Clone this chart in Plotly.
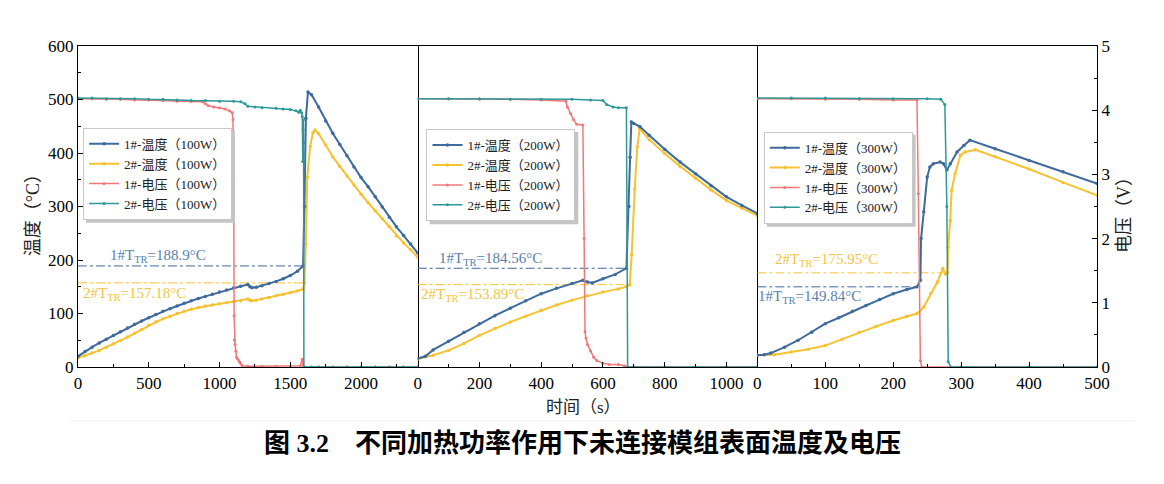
import plotly.graph_objects as go

# ---- data ----
POWERS = ["100W", "200W", "300W"]
X_RANGES = [2400, 1100, 500]
X_DTICK = [500, 200, 100]

# 100 W
P1_T1_X = [0, 50, 100, 150, 200, 250, 300, 350, 400, 450, 500, 550, 600, 650, 700, 750, 800, 850, 900, 950,
           1000, 1050, 1100, 1150, 1200, 1215, 1230, 1260, 1300, 1350, 1400, 1450, 1500, 1550, 1590, 1600,
           1610, 1625, 1650, 1700, 1750, 1800, 1850, 1900, 1950, 2000, 2050, 2100, 2150, 2200, 2250, 2300,
           2350, 2400]
P1_T1_Y = [20, 29, 37, 45, 52, 59, 66, 73, 80, 86, 92, 98, 104, 109, 114, 119, 124, 128, 132, 136,
           140, 144, 148, 151, 154, 150, 148, 149, 152, 156, 160, 165, 171, 179, 188.9, 300,
           465, 514, 509, 486, 460, 437, 416, 395, 374, 354, 337, 318, 299, 280, 262, 246,
           230, 213]
P1_T2_X = [0, 50, 100, 150, 200, 250, 300, 350, 400, 450, 500, 550, 600, 650, 700, 750, 800, 850, 900, 950,
           1000, 1050, 1100, 1150, 1200, 1215, 1230, 1260, 1300, 1350, 1400, 1450, 1500, 1550, 1590, 1600,
           1610, 1620, 1640, 1660, 1675, 1700, 1750, 1800, 1850, 1900, 1950, 2000, 2050, 2100, 2150, 2200,
           2250, 2300, 2350, 2400]
P1_T2_Y = [17, 21, 26, 31, 37, 43, 49, 56, 63, 70, 78, 84, 90, 95, 100, 104, 108, 111, 114, 116,
           118, 120, 122, 124, 127, 125, 124, 125, 127, 130, 133, 136, 139, 142, 146, 157.18,
           230, 355, 412, 438, 443, 436, 415, 393, 375, 357, 340, 323, 307, 292, 277, 262,
           245, 232, 219, 205]
P1_V1_X = [0, 100, 200, 300, 400, 500, 600, 700, 800, 880, 900, 920, 960, 1000, 1040, 1070, 1090, 1095,
           1100, 1103, 1105, 1110, 1115, 1120, 1130, 1140, 1150, 1160, 1200, 1300, 1400, 1500, 1570, 1585,
           1590, 1600, 1700, 1800, 1900, 2000, 2100, 2200, 2300, 2400]
P1_V1_Y = [4.18, 4.18, 4.17, 4.17, 4.16, 4.16, 4.15, 4.14, 4.14, 4.13, 4.10, 4.07, 4.05, 4.04, 4.02, 3.99,
           3.96, 3.85, 2.9, 0.8, 0.42, 0.35, 0.25, 0.15, 0.12, 0.08, 0.05, 0.02, 0.01, 0.01, 0.01, 0.01,
           0.02, 0.12, 0.03, 0, 0, 0, 0, 0, 0, 0, 0, 0]
P1_V2_X = [0, 100, 200, 300, 400, 500, 600, 700, 800, 900, 1000, 1100, 1150, 1180, 1200, 1250, 1300, 1400,
           1450, 1500, 1540, 1560, 1570, 1580, 1585, 1588, 1590, 1592, 1594, 1596, 1650, 1700, 1800, 1900,
           2000, 2100, 2200, 2300, 2400]
P1_V2_Y = [4.19, 4.19, 4.18, 4.18, 4.18, 4.17, 4.17, 4.16, 4.15, 4.15, 4.14, 4.14, 4.13, 4.10, 4.06, 4.05,
           4.04, 4.03, 4.02, 4.01, 3.99, 3.97, 4.0, 3.96, 3.9, 3.2, 3.7, 3.85, 3.5, 0, 0, 0, 0, 0,
           0, 0, 0, 0, 0]

# 200 W
P2_T1_X = [0, 25, 50, 100, 150, 200, 250, 300, 350, 400, 450, 500, 535, 550, 565, 600, 640, 676, 684, 688,
           692, 700, 720, 750, 800, 850, 900, 950, 1000, 1050, 1100]
P2_T1_Y = [16, 20, 32, 48, 65, 81, 96, 110, 124, 137, 147, 156, 162, 159, 157, 165, 173, 184.56, 300, 392,
           458, 455, 449, 433, 407, 383, 361, 339, 318, 302, 287]
P2_T2_X = [0, 50, 100, 150, 200, 250, 300, 350, 400, 450, 500, 550, 600, 650, 676, 687, 693, 703, 711, 719,
           750, 800, 850, 900, 950, 1000, 1050, 1100]
P2_T2_Y = [15, 22, 31, 44, 59, 72, 84, 95, 106, 116, 125, 133, 140, 146, 150, 153.89, 210, 333, 411, 445,
           425, 399, 375, 353, 331, 311, 297, 283]
P2_V1_X = [0, 100, 200, 300, 400, 480, 485, 495, 505, 515, 535, 539, 542, 545, 550, 560, 570, 580, 600,
           620, 650, 670, 680, 700, 800, 900, 1000, 1100]
P2_V1_Y = [4.18, 4.18, 4.17, 4.17, 4.16, 4.14, 4.05, 3.95, 3.85, 3.78, 3.77, 2.0, 0.55, 0.45, 0.35, 0.25,
           0.15, 0.1, 0.06, 0.04, 0.04, 0.02, 0, 0, 0, 0, 0, 0]
P2_V2_X = [0, 100, 200, 300, 400, 500, 560, 600, 612, 633, 650, 676, 680, 700, 800, 900, 1000, 1100]
P2_V2_Y = [4.18, 4.18, 4.18, 4.17, 4.17, 4.17, 4.16, 4.15, 4.09, 4.05, 4.04, 4.04, 0, 0, 0, 0, 0, 0]

# 300 W
P3_T1_X = [0, 10, 20, 40, 60, 80, 100, 120, 140, 160, 180, 200, 220, 235, 240, 241, 245, 250, 254, 259,
           269, 274, 279, 284, 294, 304, 313, 350, 400, 450, 500]
P3_T1_Y = [22, 23, 26, 37, 50, 65, 81, 92, 104, 115, 126, 137, 145, 149.84, 162, 240, 290, 355, 374, 380,
           383, 380, 368, 380, 402, 414, 424, 408, 386, 365, 343]
P3_T2_X = [0, 25, 50, 75, 100, 125, 150, 175, 200, 220, 235, 245, 255, 265, 273, 277, 280, 281, 284, 286,
           291, 299, 306, 321, 350, 400, 450, 500]
P3_T2_Y = [22, 23, 28, 33, 40, 52, 65, 76, 87, 95, 100, 112, 137, 159, 184, 174, 175.95, 224, 274, 330,
           361, 396, 402, 406, 393, 370, 345, 321]
P3_V1_X = [0, 50, 100, 150, 200, 235, 237, 240, 242, 300, 400, 500]
P3_V1_Y = [4.18, 4.18, 4.17, 4.17, 4.16, 4.16, 2.7, 0.1, 0, 0, 0, 0]
P3_V2_X = [0, 50, 100, 150, 200, 250, 270, 276, 279, 281, 285, 300, 400, 500]
P3_V2_Y = [4.19, 4.19, 4.19, 4.18, 4.18, 4.18, 4.17, 4.09, 2.5, 0.08, 0, 0, 0, 0]

# thermal-runaway thresholds (°C) and the time where each dashed line ends
TR1 = [188.9, 184.56, 149.84]
TR2 = [157.18, 153.89, 175.95]
TR1_END = [1590, 676, 240]
TR2_END = [1600, 687, 282]
TR1_LABEL = ["188.9", "184.56", "149.84"]
TR2_LABEL = ["157.18", "153.89", "175.95"]

BLUE = "#3E6A9C"
YELLOW = "#F5C232"
RED = "#F07878"
TEAL = "#2E9898"
FONT = "Liberation Serif, Noto Sans CJK SC"
TICKFONT = dict(family=FONT, size=17, color="black")

panels = [
    (P1_T1_X, P1_T1_Y, P1_T2_X, P1_T2_Y, P1_V1_X, P1_V1_Y, P1_V2_X, P1_V2_Y),
    (P2_T1_X, P2_T1_Y, P2_T2_X, P2_T2_Y, P2_V1_X, P2_V1_Y, P2_V2_X, P2_V2_Y),
    (P3_T1_X, P3_T1_Y, P3_T2_X, P3_T2_Y, P3_V1_X, P3_V1_Y, P3_V2_X, P3_V2_Y),
]

legend_pos = [(0.005, 0.745), (0.342, 0.741), (0.673, 0.733)]
# approximate legend box size in paper units, used for the drop shadow
LEG_W, LEG_H = 0.146, 0.287
# label centres in data units: (1# label), (2# label)
TR_TEXT_POS = [
    ((563, 207), (396, 136)),
    ((237, 202), (179, 134)),
    ((77, 131), (102, 200)),
]

fig = go.Figure()
layout = {}

for i, (t1x, t1y, t2x, t2y, v1x, v1y, v2x, v2y) in enumerate(panels):
    xs = "x" if i == 0 else f"x{i + 1}"
    yt = "y" if i == 0 else f"y{2 * i + 1}"
    yv = f"y{2 * i + 2}"
    lg = "legend" if i == 0 else f"legend{i + 1}"
    p = POWERS[i]

    fig.add_trace(go.Scatter(x=[0, TR1_END[i]], y=[TR1[i], TR1[i]], xaxis=xs, yaxis=yt, mode="lines",
                             line=dict(color=BLUE, width=1, dash="dashdot"), showlegend=False))
    fig.add_trace(go.Scatter(x=[0, TR2_END[i]], y=[TR2[i], TR2[i]], xaxis=xs, yaxis=yt, mode="lines",
                             line=dict(color=YELLOW, width=1, dash="dashdot"), showlegend=False))
    fig.add_trace(go.Scatter(x=t2x, y=t2y, xaxis=xs, yaxis=yt, mode="lines+markers",
                             name=f"2#-温度（{p}）", legend=lg, legendrank=2,
                             line=dict(color=YELLOW, width=2), marker=dict(size=3.5)))
    fig.add_trace(go.Scatter(x=t1x, y=t1y, xaxis=xs, yaxis=yt, mode="lines+markers",
                             name=f"1#-温度（{p}）", legend=lg, legendrank=1,
                             line=dict(color=BLUE, width=2), marker=dict(size=3.5)))
    fig.add_trace(go.Scatter(x=v1x, y=v1y, xaxis=xs, yaxis=yv, mode="lines+markers",
                             name=f"1#-电压（{p}）", legend=lg, legendrank=3,
                             line=dict(color=RED, width=1.5), marker=dict(size=3)))
    fig.add_trace(go.Scatter(x=v2x, y=v2y, xaxis=xs, yaxis=yv, mode="lines+markers",
                             name=f"2#-电压（{p}）", legend=lg, legendrank=4,
                             line=dict(color=TEAL, width=1.5), marker=dict(size=3)))

    xname = "xaxis" if i == 0 else f"xaxis{i + 1}"
    ytname = "yaxis" if i == 0 else f"yaxis{2 * i + 1}"
    yvname = f"yaxis{2 * i + 2}"
    layout[xname] = dict(domain=[i / 3, (i + 1) / 3], anchor=yt, range=[0, X_RANGES[i]], dtick=X_DTICK[i],
                         showline=True, mirror=True, linecolor="black", linewidth=1.4,
                         ticks="inside", ticklen=5, tickcolor="black",
                         minor=dict(ticks="inside", ticklen=3, dtick=X_DTICK[i] / 2, tickcolor="black"),
                         showgrid=False, zeroline=False, automargin=False, tickfont=TICKFONT)
    layout[ytname] = dict(domain=[0, 1], anchor=xs, range=[0, 600], showgrid=False, zeroline=False,
                          automargin=False, showline=(i == 0), linecolor="black", linewidth=1.4)
    layout[yvname] = dict(anchor=xs, overlaying=yt, side="right", range=[0, 5], showgrid=False,
                          zeroline=False, automargin=False, showline=True, linecolor="black",
                          linewidth=1.4)
    if i == 0:
        layout[ytname].update(dtick=100, ticks="inside", ticklen=5, tickcolor="black", tickfont=TICKFONT,
                              minor=dict(ticks="inside", ticklen=3, dtick=50, tickcolor="black"))
    else:
        layout[ytname].update(showticklabels=False, ticks="")
    if i == 2:
        layout[yvname].update(dtick=1, ticks="inside", ticklen=5, tickcolor="black", tickfont=TICKFONT,
                              minor=dict(ticks="inside", ticklen=3, dtick=0.5, tickcolor="black"))
    else:
        layout[yvname].update(showticklabels=False, ticks="")

    lx, ly = legend_pos[i]
    layout[lg] = dict(x=lx, y=ly, xanchor="left", yanchor="top", traceorder="normal",
                      bgcolor="white", bordercolor="#C8C8C8", borderwidth=1, itemwidth=30,
                      font=dict(family=FONT, size=13, color="#222"))
    # soft drop shadow behind each legend box
    fig.add_shape(type="rect", xref="paper", yref="paper", layer="above",
                  x0=lx + 0.003, x1=lx + LEG_W + 0.003, y0=ly - LEG_H - 0.009, y1=ly - 0.009,
                  fillcolor="#C4C4C4", line=dict(width=0))

    (a1x, a1y), (a2x, a2y) = TR_TEXT_POS[i]
    fig.add_annotation(x=a1x, y=a1y, xref=xs, yref=yt, showarrow=False, xanchor="center",
                       yanchor="middle", text=f"1#T<sub>TR</sub>={TR1_LABEL[i]}°C",
                       font=dict(family=FONT, size=15, color="#5A7FAD"))
    fig.add_annotation(x=a2x, y=a2y, xref=xs, yref=yt, showarrow=False, xanchor="center",
                       yanchor="middle", text=f"2#T<sub>TR</sub>={TR2_LABEL[i]}°C",
                       font=dict(family=FONT, size=15, color="#F2C446"))

fig.update_layout(layout)

# axis titles and caption
TEXT_ANCHOR = dict(xref="paper", yref="paper", showarrow=False, xanchor="center", yanchor="middle")
fig.add_annotation(x=-0.044, y=0.486, textangle=-90, text="温度（°C）",
                   font=dict(family=FONT, size=18, color="#222"), **TEXT_ANCHOR)
fig.add_annotation(x=1.0265, y=0.486, textangle=-90, text="电压（V）",
                   font=dict(family=FONT, size=18, color="#222"), **TEXT_ANCHOR)
fig.add_annotation(x=0.496, y=-0.125, text="时间（s）",
                   font=dict(family=FONT, size=17, color="#222"), **TEXT_ANCHOR)
fig.add_annotation(x=0.495, y=-0.237, text="<b>图 3.2　不同加热功率作用下未连接模组表面温度及电压</b>",
                   font=dict(family=FONT, size=26, color="black"), **TEXT_ANCHOR)
fig.add_shape(type="line", xref="paper", yref="paper", x0=-0.008, x1=1.037, y0=-0.168, y1=-0.168,
              line=dict(color="#EEEEEE", width=1))

# page body adds an 8px offset, so margins are trimmed by that amount
fig.update_layout(width=1156, height=476, margin=dict(l=70, r=67, t=38, b=117),
                  paper_bgcolor="white", plot_bgcolor="white", hovermode=False)

fig.write_html("out.html")
